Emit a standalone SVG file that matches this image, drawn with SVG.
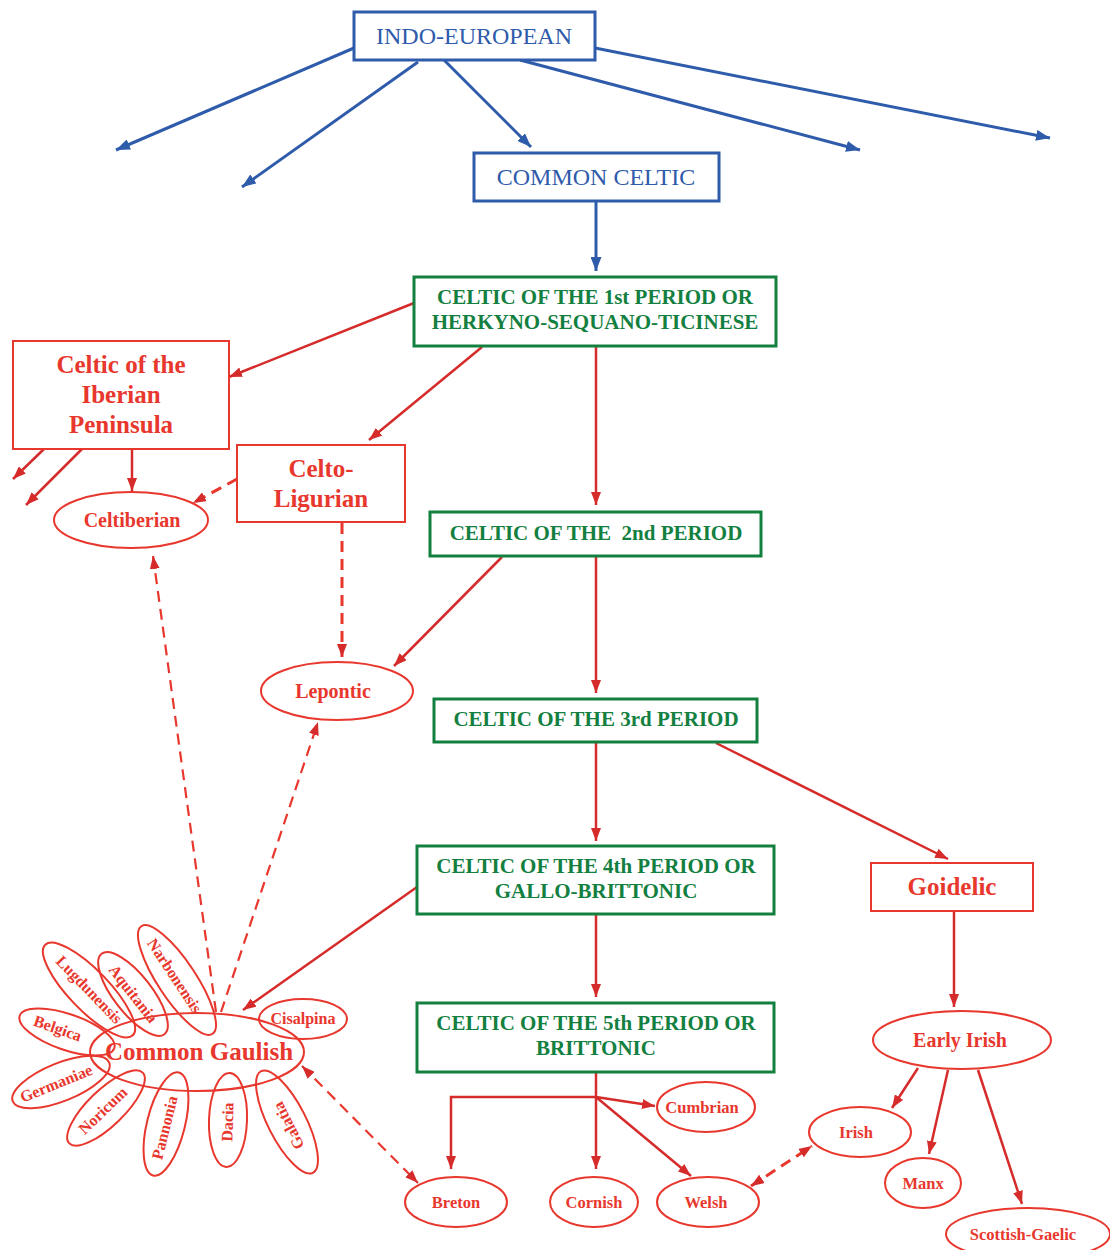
<svg xmlns="http://www.w3.org/2000/svg" width="1110" height="1250" viewBox="0 0 1110 1250">
<style>
.bb{fill:#fff;stroke:#2f5bab;stroke-width:3}
.bt{font-family:"Liberation Serif",serif;font-size:24px;fill:#2f5bab;text-anchor:middle}
.gb{fill:#fff;stroke:#13803f;stroke-width:3}
.gt{font-family:"Liberation Serif",serif;font-size:21px;font-weight:bold;fill:#13803f;text-anchor:middle;white-space:pre}
.rb{fill:#fff;stroke:#e8372d;stroke-width:2}
.re{fill:none;stroke:#e8372d;stroke-width:2}
.rt{font-family:"Liberation Serif",serif;font-weight:bold;fill:#e8372d;text-anchor:middle}
.big{font-size:25px}
.mid{font-size:20px}
.sm{font-size:16.5px}
.xs{font-size:16px}
.cb{stroke:#2f5bab;stroke-width:3;fill:none;marker-end:url(#ab)}
.cr{stroke:#d62b2b;stroke-width:2.5;fill:none;marker-end:url(#ar)}
.cd{stroke:#e8372d;stroke-width:2.2;fill:none;stroke-dasharray:11 7;marker-end:url(#ar)}
.cdd{stroke:#e8372d;stroke-width:2.2;fill:none;stroke-dasharray:11 7;marker-end:url(#ar);marker-start:url(#ar)}
.thick{stroke-width:3}
</style>
<defs>
<marker id="ab" markerUnits="userSpaceOnUse" markerWidth="15" markerHeight="11" refX="14" refY="5.5" orient="auto"><path d="M0,0 L14,5.5 L0,11 z" fill="#2f5bab"/></marker>
<marker id="ar" markerUnits="userSpaceOnUse" markerWidth="14" markerHeight="10" refX="13" refY="5" orient="auto-start-reverse"><path d="M0,0 L13,5 L0,10 z" fill="#d62b2b"/></marker>
</defs>
<g id="connectors">
<line class="cb" x1="354" y1="48" x2="116" y2="150"/>
<line class="cb" x1="418" y1="62" x2="242" y2="187"/>
<line class="cb" x1="444" y1="60" x2="531" y2="147"/>
<line class="cb" x1="520" y1="60" x2="860" y2="150"/>
<line class="cb" x1="595" y1="48" x2="1050" y2="138"/>
<line class="cb" x1="596" y1="201" x2="596" y2="271"/>
<line class="cr" x1="414" y1="303" x2="229" y2="377"/>
<line class="cr" x1="482" y1="347" x2="369" y2="440"/>
<line class="cr" x1="596" y1="347" x2="596" y2="505"/>
<line class="cr" x1="44" y1="449" x2="13" y2="479"/>
<line class="cr" x1="82" y1="449" x2="26" y2="505"/>
<line class="cr" x1="132" y1="449" x2="132" y2="491"/>
<line class="cd thick" x1="237" y1="479" x2="193" y2="503"/>
<line class="cd thick" x1="342" y1="523" x2="342" y2="657"/>
<line class="cr" x1="502" y1="557" x2="394" y2="666"/>
<line class="cr" x1="596" y1="557" x2="596" y2="693"/>
<line class="cr" x1="596" y1="743" x2="596" y2="841"/>
<line class="cr" x1="716" y1="743" x2="948" y2="859"/>
<line class="cr" x1="417" y1="887" x2="243" y2="1010"/>
<line class="cr" x1="596" y1="915" x2="596" y2="997"/>
<line class="cr" x1="954" y1="911" x2="954" y2="1007"/>
<line class="cr" x1="918" y1="1068" x2="892" y2="1108"/>
<line class="cr" x1="948" y1="1070" x2="929" y2="1154"/>
<line class="cr" x1="978" y1="1070" x2="1022" y2="1204"/>
<line class="cr" x1="596" y1="1072" x2="596" y2="1169"/>
<polyline class="cr" points="596,1097 451,1097 451,1169"/>
<line class="cr" x1="596" y1="1097" x2="655" y2="1106"/>
<line class="cr" x1="596" y1="1097" x2="691" y2="1176"/>
<line class="cd" x1="216" y1="1012" x2="153" y2="556"/>
<line class="cd" x1="221" y1="1012" x2="318" y2="722"/>
<line class="cdd" x1="302" y1="1066" x2="418" y2="1183"/>
<line class="cdd thick" x1="751" y1="1186" x2="812" y2="1146"/>
</g>
<g id="indo-european"><rect class="bb" x="354" y="12" width="241" height="48"/><text class="bt" x="474" y="44">INDO-EUROPEAN</text></g>
<g id="common-celtic"><rect class="bb" x="474" y="153" width="245" height="48"/><text class="bt" x="596" y="185">COMMON CELTIC</text></g>
<g id="p1"><rect class="gb" x="414" y="277" width="362" height="69"/><text class="gt" x="595" y="304">CELTIC OF THE 1st PERIOD OR</text><text class="gt" x="595" y="329">HERKYNO-SEQUANO-TICINESE</text></g>
<g id="p2"><rect class="gb" x="430" y="512" width="331" height="44"/><text class="gt" x="596" y="540">CELTIC OF THE  2nd PERIOD</text></g>
<g id="p3"><rect class="gb" x="434" y="699" width="323" height="43"/><text class="gt" x="596" y="726">CELTIC OF THE 3rd PERIOD</text></g>
<g id="p4"><rect class="gb" x="417" y="846" width="357" height="68"/><text class="gt" x="596" y="873">CELTIC OF THE 4th PERIOD OR</text><text class="gt" x="596" y="898">GALLO-BRITTONIC</text></g>
<g id="p5"><rect class="gb" x="417" y="1003" width="357" height="69"/><text class="gt" x="596" y="1030">CELTIC OF THE 5th PERIOD OR</text><text class="gt" x="596" y="1055">BRITTONIC</text></g>
<g id="iberian"><rect class="rb" x="13" y="341" width="216" height="108"/><text class="rt big" x="121" y="373">Celtic of the</text><text class="rt big" x="121" y="403">Iberian</text><text class="rt big" x="121" y="433">Peninsula</text></g>
<g id="celto-ligurian"><rect class="rb" x="237" y="445" width="168" height="77"/><text class="rt big" x="321" y="477">Celto-</text><text class="rt big" x="321" y="507">Ligurian</text></g>
<g id="celtiberian"><ellipse class="re" cx="131" cy="520" rx="77" ry="28"/><text class="rt mid" x="132" y="527">Celtiberian</text></g>
<g id="lepontic"><ellipse class="re" cx="337" cy="691" rx="76" ry="29"/><text class="rt mid" x="333" y="698">Lepontic</text></g>
<g id="goidelic"><rect class="rb" x="871" y="863" width="162" height="48"/><text class="rt big" x="952" y="895">Goidelic</text></g>
<g id="early-irish"><ellipse class="re" cx="962" cy="1040" rx="89" ry="29"/><text class="rt mid" x="960" y="1047">Early Irish</text></g>
<g id="irish"><ellipse class="re" cx="860" cy="1132" rx="51" ry="25"/><text class="rt sm" x="856" y="1138">Irish</text></g>
<g id="manx"><ellipse class="re" cx="923" cy="1183" rx="38" ry="25"/><text class="rt sm" x="923" y="1189">Manx</text></g>
<g id="scottish-gaelic"><ellipse class="re" cx="1028" cy="1234" rx="82" ry="26"/><text class="rt sm" x="1023" y="1240">Scottish-Gaelic</text></g>
<g id="cumbrian"><ellipse class="re" cx="706" cy="1107" rx="49" ry="25"/><text class="rt sm" x="702" y="1113">Cumbrian</text></g>
<g id="breton"><ellipse class="re" cx="456" cy="1202" rx="51" ry="25"/><text class="rt sm" x="456" y="1208">Breton</text></g>
<g id="cornish"><ellipse class="re" cx="594" cy="1202" rx="44" ry="25"/><text class="rt sm" x="594" y="1208">Cornish</text></g>
<g id="welsh"><ellipse class="re" cx="708" cy="1202" rx="51" ry="25"/><text class="rt sm" x="706" y="1208">Welsh</text></g>
<g id="common-gaulish"><ellipse class="re" cx="197" cy="1052" rx="107" ry="39"/><text class="rt big" x="199" y="1060">Common Gaulish</text></g>
<g id="cisalpina"><ellipse class="re" cx="303" cy="1019" rx="44" ry="20"/><text class="rt xs" x="303" y="1024">Cisalpina</text></g>
<g id="belgica" transform="rotate(19 67 1032)"><ellipse class="re" cx="67" cy="1032" rx="50" ry="18"/><text class="rt xs" x="57" y="1037">Belgica</text></g>
<g id="lugdunensis" transform="rotate(46 89 990)"><ellipse class="re" cx="89" cy="990" rx="63" ry="20"/><text class="rt xs" x="89" y="995">Lugdunensis</text></g>
<g id="aquitania" transform="rotate(52 133 994)"><ellipse class="re" cx="133" cy="994" rx="51" ry="19"/><text class="rt xs" x="133" y="999">Aquitania</text></g>
<g id="narbonensis" transform="rotate(56.5 177 980)"><ellipse class="re" cx="177" cy="980" rx="64.5" ry="19"/><text class="rt xs" x="172" y="985">Narbonensis</text></g>
<g id="germaniae" transform="rotate(-22 61 1082)"><ellipse class="re" cx="61" cy="1082" rx="52" ry="19"/><text class="rt xs" x="56" y="1087">Germaniae</text></g>
<g id="noricum" transform="rotate(-44 106 1108)"><ellipse class="re" cx="106" cy="1108" rx="51" ry="18"/><text class="rt xs" x="102" y="1113">Noricum</text></g>
<g id="pannonia" transform="rotate(-76 166 1124)"><ellipse class="re" cx="166" cy="1124" rx="53" ry="19"/><text class="rt xs" x="162" y="1129">Pannonia</text></g>
<g id="dacia" transform="rotate(-88 228 1120)"><ellipse class="re" cx="228" cy="1120" rx="47" ry="19"/><text class="rt xs" x="226" y="1125">Dacia</text></g>
<g id="galatia" transform="rotate(-117 287 1122)"><ellipse class="re" cx="287" cy="1122" rx="57" ry="19"/><text class="rt xs" x="283" y="1127">Galatia</text></g>
</svg>
